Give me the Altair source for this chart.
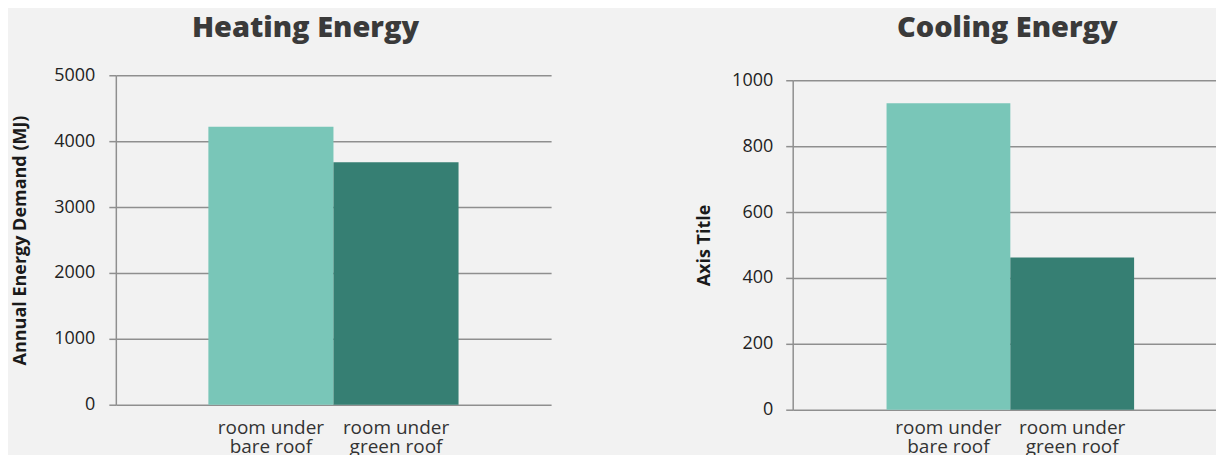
import altair as alt
import pandas as pd

# ---- data ----
categories = ["room under bare roof", "room under green roof"]
heating = [4220, 3680]
cooling = [930, 462]
heating_ticks = [0, 1000, 2000, 3000, 4000, 5000]
cooling_ticks = [0, 200, 400, 600, 800, 1000]
bar_colors = ["#79c6b8", "#367f73"]

heat_df = pd.DataFrame({"room": categories, "value": heating})
cool_df = pd.DataFrame({"room": categories, "value": cooling})

FONT = "Open Sans"
GRID = "#8f8f8f"
label_expr = "split(replace(datum.label, 'under ', 'under|'), '|')"


def panel(df, title, ytitle, ticks, width, height, yrange, pad_outer, align,
          title_dx, title_offset, title_pad, y_label_pad, x_label_pad):
    if yrange is not None:
        yscale = alt.Scale(domain=[ticks[0], ticks[-1]], nice=False, range=yrange)
    else:
        yscale = alt.Scale(domain=[ticks[0], ticks[-1]], nice=False)
    return (
        alt.Chart(df)
        .mark_bar()
        .encode(
            x=alt.X(
                "room:N",
                sort=categories,
                title=None,
                scale=alt.Scale(paddingInner=0, paddingOuter=pad_outer, align=align),
                axis=alt.Axis(
                    labelAngle=0,
                    labelExpr=label_expr,
                    labelFont=FONT,
                    labelFontSize=19,
                    labelLineHeight=19,
                    labelColor="#333333",
                    labelPadding=x_label_pad,
                    labelBaseline="top",
                    domain=False,
                    ticks=False,
                    grid=False,
                ),
            ),
            y=alt.Y(
                "value:Q",
                title=ytitle,
                scale=yscale,
                axis=alt.Axis(
                    values=ticks,
                    format="d",
                    grid=True,
                    gridColor=GRID,
                    gridWidth=1.5,
                    domain=True,
                    domainColor=GRID,
                    domainWidth=1.5,
                    ticks=True,
                    tickSize=7,
                    tickColor=GRID,
                    tickWidth=1.5,
                    labelFont=FONT,
                    labelFontSize=18,
                    labelColor="#222222",
                    labelPadding=y_label_pad,
                    titleFont=FONT,
                    titleFontSize=18,
                    titleFontWeight="bold",
                    titleColor="#1a1a1a",
                    titlePadding=title_pad,
                ),
            ),
            color=alt.Color(
                "room:N",
                scale=alt.Scale(domain=categories, range=bar_colors),
                legend=None,
            ),
        )
        .properties(
            width=width,
            height=height,
            title=alt.TitleParams(
                text=title,
                font=FONT,
                fontSize=29,
                fontWeight=800,
                color="#3a3a3a",
                anchor="middle",
                frame="group",
                dx=title_dx,
                offset=title_offset,
            ),
        )
    )


left = panel(heat_df, "Heating Energy", "Annual Energy Demand (MJ)", heating_ticks,
             436, 330, None, 0.74, 0.5, -28, 23, 24, 14, 14)
right = panel(cool_df, "Cooling Energy", "Axis Title", cooling_ticks,
              424, 335, [335, 5], 0.71, 0.534, 3, 28, 18, 13, 9)

chart = (
    alt.hconcat(left, right, spacing=144)
    .properties(padding={"left": 3, "top": 6, "right": 0, "bottom": -2})
    .configure(background="#f2f2f2")
    .configure_view(stroke=None)
)

chart.save("out.html", embed_options={"renderer": "svg", "actions": False})
